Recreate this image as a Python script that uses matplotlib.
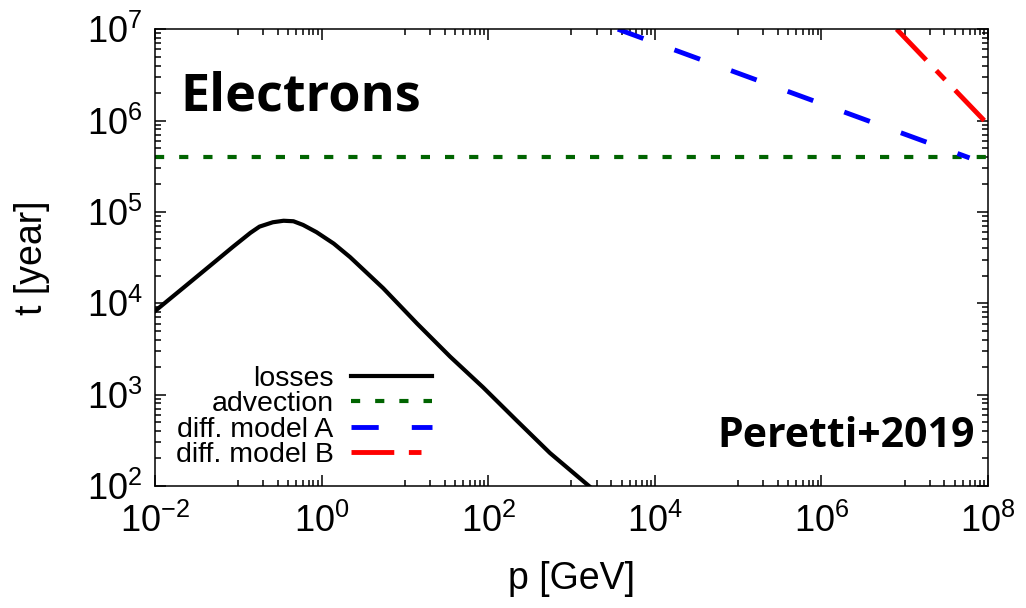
import numpy as np
import matplotlib.pyplot as plt
from matplotlib.ticker import FixedLocator, LogLocator, FuncFormatter, NullFormatter

plt.rcParams['font.family'] = ['Liberation Sans', 'DejaVu Sans']
plt.rcParams['mathtext.fontset'] = 'custom'
plt.rcParams['mathtext.rm'] = 'Liberation Sans'
plt.rcParams['mathtext.it'] = 'Liberation Sans:italic'
plt.rcParams['mathtext.bf'] = 'Liberation Sans:bold'

# Temps de pertes
p_loss = [0.01, 0.022, 0.055, 0.087, 0.14, 0.18, 0.26, 0.35, 0.46, 0.60, 0.87,
          1.4, 2.2, 5.5, 14, 35, 87, 220, 550, 1620]
t_loss = [8.2e3, 1.48e4, 2.95e4, 4.17e4, 5.9e4, 6.9e4, 7.7e4, 8.0e4, 7.9e4, 7.2e4, 6.0e4,
          4.5e4, 3.2e4, 1.46e4, 6.0e3, 2.6e3, 1.2e3, 5.2e2, 2.3e2, 1.0e2]

# Advection
p_adv = [0.01, 1e8]
t_adv = [4e5, 4e5]

# Diffusion modeles A et B
p_diffA = [3.6e3, 6e7]
t_diffA = [1e7, 3.9e5]
p_diffB = [8e6, 9e7]
t_diffB = [1e7, 1e6]

labels = ['losses', 'advection', 'diff. model A', 'diff. model B']
xticks = [1e-2, 1e0, 1e2, 1e4, 1e6, 1e8]
yticks = [1e2, 1e3, 1e4, 1e5, 1e6, 1e7]

fig = plt.figure(figsize=(10.26, 6.08), dpi=100)
ax = fig.add_axes([0.151, 0.2007, 0.812, 0.7513])

ax.plot(p_loss, t_loss, color='black', lw=3, label=labels[0])
ax.plot(p_adv, t_adv, color='#006400', lw=3, dashes=(2.2, 3.6), dash_capstyle='butt', label=labels[1])
ax.plot(p_diffA, t_diffA, color='#0000ff', lw=3.5, dashes=(5.6, 6.8), dash_capstyle='butt', label=labels[2])
ax.plot(p_diffB, t_diffB, color='#ff0000', lw=3.5, dashes=(8.8, 3, 2.6, 3), dash_capstyle='butt', label=labels[3])

ax.set_xscale('log')
ax.set_yscale('log')
ax.set_xlim(1e-2, 1e8)
ax.set_ylim(1e2, 1e7)

# Graduations facon gnuplot
fmt = FuncFormatter(lambda v, pos: r'$10^{%d}$' % round(np.log10(v)))
ax.xaxis.set_major_locator(FixedLocator(xticks))
ax.xaxis.set_minor_locator(LogLocator(base=100, subs=np.arange(10, 100, 10), numticks=20))
ax.yaxis.set_major_locator(FixedLocator(yticks))
ax.yaxis.set_minor_locator(LogLocator(base=10, subs=np.arange(2, 10), numticks=20))
ax.xaxis.set_major_formatter(fmt)
ax.yaxis.set_major_formatter(fmt)
ax.xaxis.set_minor_formatter(NullFormatter())
ax.yaxis.set_minor_formatter(NullFormatter())
ax.tick_params(which='both', direction='in', top=True, right=True, width=1.1, labelsize=26, colors='black')
ax.tick_params(axis='x', which='major', length=8, pad=13)
ax.tick_params(axis='y', which='major', length=8, pad=9)
ax.tick_params(which='minor', length=4)
for s in ax.spines.values():
    s.set_linewidth(1.1)

ax.set_xlabel('p [GeV]', fontsize=27, labelpad=15)
ax.set_ylabel('t [year]', fontsize=27, labelpad=26)

ax.text(0.030, 0.823, 'Electrons', transform=ax.transAxes, fontsize=37.5,
        fontweight='bold', family='Open Sans', ha='left', va='baseline')
ax.text(0.984, 0.085, 'Peretti+2019', transform=ax.transAxes, fontsize=29.5,
        fontweight='bold', family='Open Sans', ha='right', va='baseline')

ax.legend(loc='upper right', bbox_to_anchor=(0.3325, 0.262), frameon=False,
          markerfirst=False, fontsize=20.5, handlelength=2.85, handletextpad=0.6,
          labelspacing=-0.03, borderaxespad=0, borderpad=0)

fig.savefig('out.png', dpi=100)
